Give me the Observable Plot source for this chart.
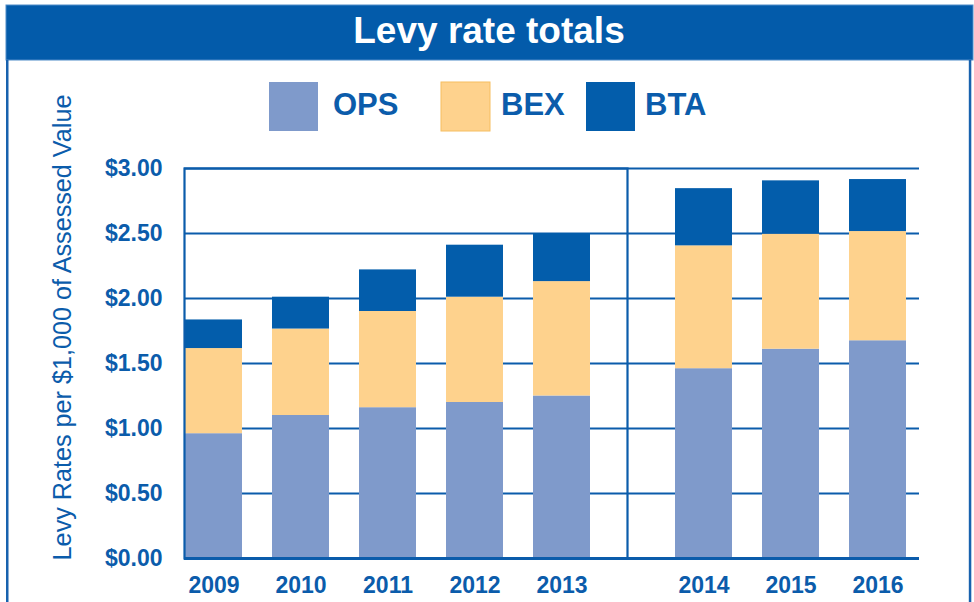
<!DOCTYPE html>
<html>
<head>
<meta charset="utf-8">
<script src="https://cdn.jsdelivr.net/npm/d3@7"></script>
<script src="https://cdn.jsdelivr.net/npm/@observablehq/plot@0.6"></script>
<style>
  html, body { margin: 0; padding: 0; background: #ffffff; }
  #wrap { position: relative; width: 974px; height: 602px; overflow: hidden; background: #ffffff; }
  #left { position: absolute; left: 0; top: 0; width: 627px; height: 602px; }
  #right { position: absolute; left: 627px; top: 0; width: 347px; height: 602px; }
  #overlay { position: absolute; left: 0; top: 0; pointer-events: none; }
</style>
</head>
<body>
<div id="wrap">
  <div id="left"></div>
  <div id="right"></div>
  <svg id="overlay" width="974" height="602"></svg>
</div>
<script>
// ---- data ----
const title = "Levy rate totals";
const yLabel = "Levy Rates per $1,000 of Assessed Value";
const years = [2009, 2010, 2011, 2012, 2013, 2014, 2015, 2016];
const seriesNames = ["OPS", "BEX", "BTA"];
const seriesColors = ["#7F9ACB", "#FED28D", "#035DAB"];
const ops = [0.96, 1.10, 1.16, 1.20, 1.25, 1.46, 1.61, 1.675];
const bex = [0.655, 0.665, 0.74, 0.81, 0.88, 0.945, 0.885, 0.84];
const bta = [0.22, 0.245, 0.32, 0.40, 0.37, 0.44, 0.41, 0.40];
const yTicks = [0, 0.5, 1, 1.5, 2, 2.5, 3];
const firstGroupYears = [2009, 2010, 2011, 2012, 2013];
const secondGroupYears = [2014, 2015, 2016];

// ---- build table ----
const values = {OPS: ops, BEX: bex, BTA: bta};
const rows = [];
years.forEach((year, i) => {
  seriesNames.forEach(s => rows.push({year, series: s, value: values[s][i]}));
});

const blue = "#0B5CAB";
const font = "'Liberation Sans', Arial, Helvetica, sans-serif";
const svgStyle = `background:transparent;overflow:visible;font-family:${font};color:${blue};`;
const H = 602, MT = 168, MB = 44;

function chart(groupYears, opts) {
  const data = rows.filter(d => groupYears.includes(d.year));
  const marks = [
    Plot.ruleY(yTicks.filter(t => t > 0), {stroke: blue, strokeWidth: 2.2}),
    Plot.barY(data, {x: "year", y: "value", fill: "series", order: seriesNames}),
  ];
  if (opts.frame) marks.push(Plot.frame({stroke: blue, strokeWidth: 2.2}));
  marks.push(Plot.ruleY([0], {stroke: blue, strokeWidth: 3}));
  if (opts.yAxis) {
    marks.push(Plot.axisY({
      ticks: yTicks, tickSize: 0, tickPadding: 22,
      tickFormat: d => "$" + d.toFixed(2),
      fill: blue, fontSize: 23, fontWeight: "bold", label: null
    }));
  }
  marks.push(Plot.axisX({
    tickSize: 0, tickPadding: 18, tickFormat: d => String(d),
    fill: blue, fontSize: 23, fontWeight: "bold", label: null
  }));
  return Plot.plot({
    width: opts.width, height: H,
    marginLeft: opts.marginLeft, marginRight: opts.marginRight,
    marginTop: MT, marginBottom: MB,
    style: svgStyle,
    x: {type: "band", domain: groupYears, range: opts.range, paddingInner: 0.35, paddingOuter: 0, label: null, axis: null},
    y: {domain: [0, 3], label: null, axis: null},
    color: {domain: seriesNames, range: seriesColors},
    marks
  });
}

document.getElementById("left").appendChild(
  chart(firstGroupYears, {width: 627, marginLeft: 184, marginRight: 0, range: [185, 590], frame: true, yAxis: true})
);
document.getElementById("right").appendChild(
  chart(secondGroupYears, {width: 347, marginLeft: 0, marginRight: 55, range: [47, 279], frame: false, yAxis: false})
);

// ---- decorations: title bar, side borders, legend, y label ----
const ov = d3.select("#overlay");
ov.append("rect").attr("x", 6).attr("y", 5).attr("width", 967).attr("height", 55)
  .attr("fill", "#035BAA").attr("stroke", "#4F8BC8").attr("stroke-width", 1);
ov.append("rect").attr("x", 6).attr("y", 60).attr("width", 2.5).attr("height", 542).attr("fill", "#1862AE");
ov.append("rect").attr("x", 968.8).attr("y", 60).attr("width", 2.5).attr("height", 542).attr("fill", "#1862AE");
ov.append("text").attr("x", 489).attr("y", 43).attr("text-anchor", "middle")
  .attr("font-family", font).attr("font-size", 37).attr("font-weight", "bold")
  .attr("fill", "#ffffff").text(title);

const swatchX = [269, 441, 586];
const labelX = [333, 501, 645];
seriesNames.forEach((s, i) => {
  ov.append("rect").attr("x", swatchX[i]).attr("y", 82).attr("width", 49).attr("height", 49)
    .attr("fill", seriesColors[i])
    .attr("stroke", s === "BEX" ? "#F6BE60" : "none").attr("stroke-width", 1);
  ov.append("text").attr("x", labelX[i]).attr("y", 115)
    .attr("font-family", font).attr("font-size", 31).attr("font-weight", "bold")
    .attr("fill", blue).text(s);
});

ov.append("text").attr("transform", "translate(71,327.5) rotate(-90)")
  .attr("text-anchor", "middle").attr("font-family", font).attr("font-size", 25.2)
  .attr("fill", blue).text(yLabel);
</script>
</body>
</html>
